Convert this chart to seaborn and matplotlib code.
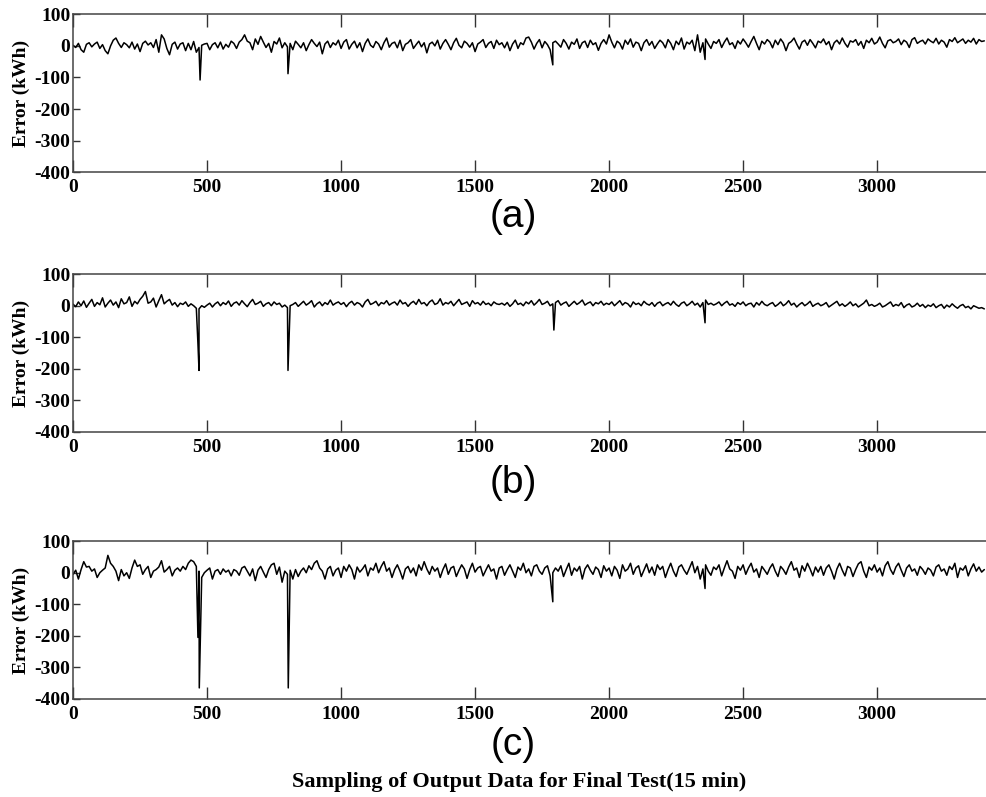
import numpy as np
import pandas as pd
import seaborn as sns
import matplotlib.pyplot as plt

sns.set_theme(style="ticks")
plt.rcParams["font.family"] = ["Liberation Serif", "DejaVu Serif"]
plt.rcParams["xtick.direction"] = "in"
plt.rcParams["ytick.direction"] = "in"
plt.rcParams["axes.unicode_minus"] = False
plt.rcParams["text.color"] = "black"
plt.rcParams["axes.labelcolor"] = "black"
plt.rcParams["xtick.labelcolor"] = "black"
plt.rcParams["ytick.labelcolor"] = "black"

# samples every 10 points (0..3400) (kWh)
step = 10
err_a = [
    2, -5, 8, -12, -20, 5, 10, -3, 6, 12, -8, 4, -15, -25, 0, 18, 25, 8, -5, 10,
    4, -6, 12, -10, 6, -18, 8, 15, 3, 10, -5, 20, -20, 35, 22, -8, -28, 5, 12, -10,
    6, 10, -15, 8, -12, 14, -20, -5, 2, 6, 8, -12, 4, 10, -6, 12, -10, 5, -4, 15,
    8, -8, 12, 20, 35, 15, 10, -12, 22, 5, 30, 12, -5, 8, -20, 14, 6, 25, -6, 10,
    -3, 8, -12, 15, 5, -6, 10, -15, 4, 20, 8, -2, 12, -25, 6, 15, -5, 10, 3, 18,
    -8, 12, 20, -10, 5, 15, -6, 10, -18, 8, 22, 2, -5, 14, 6, -12, 10, 25, -4, 8,
    12, -6, 18, -15, 5, 10, 20, -8, 4, 15, -3, 10, -22, 6, 12, 0, 18, -10, 8, 20,
    5, -12, 10, 24, 2, -6, 15, 8, -4, 10, -18, 6, 12, 20, -5, 8, 14, -8, 18, 4,
    10, -6, 12, -15, 6, 18, -8, 10, 4, 25, 28, 12, -10, 8, 20, -6, 14, 4, -12, 10,
    15, 6, -4, 20, 8, -10, 12, 5, 22, -8, 10, 15, -5, 18, 4, 10, -14, 8, 20, 6,
    35, 12, -6, 15, 8, -10, 18, 5, 22, -4, 12, 8, -15, 10, 20, 2, 14, -8, 6, 18,
    10, -6, 20, 8, -12, 15, 4, 25, -10, 12, 6, 18, -15, 35, -20, 10, 22, 6, -8, 14,
    8, 20, -5, 12, 25, 4, 10, -8, 16, 6, 22, 10, -4, 14, 30, 8, -12, 15, 6, 20,
    12, -6, 18, 4, 22, 10, -15, 8, 14, 25, 6, -10, 12, 18, 2, 20, 8, -6, 15, 10,
    22, 4, 14, -12, 10, 18, 6, 25, 8, -4, 16, 12, 20, 2, 14, -8, 18, 10, 24, 6,
    12, 28, 8, -6, 16, 20, 10, 14, 22, 4, 18, 12, -5, 20, 26, 8, 14, 18, 6, 22,
    15, 10, 24, 6, 18, 12, -4, 20, 14, 26, 10, 16, 22, 8, 18, 12, 24, 6, 20, 14,
    16,
]
err_b = [
    5, -3, 12, 0, 15, -5, 8, 20, -2, 10, 3, 25, -4, 8, 18, 2, 12, -6, 22, 6,
    10, 28, -2, 14, 6, 20, 30, 45, 8, 12, 24, -4, 16, 35, 6, 14, 20, 2, 10, -3,
    8, 4, 12, -2, 6, 0, -8, -10, 0, -5, 2, 8, -4, 6, 12, 0, 10, 4, 15, -2,
    8, 12, 2, 16, 6, -3, 10, 20, 4, 8, 14, -2, 6, 10, 0, 12, 4, 8, -4, 2,
    -6, 0, 4, 10, -2, 6, 14, 2, 8, 16, -4, 6, 12, 0, 10, 4, 18, 2, 8, 12,
    4, 10, -3, 8, 14, 2, 10, 6, -4, 12, 20, 4, 8, 14, 0, 10, 6, 16, 2, 8,
    12, 2, 18, 6, 10, -2, 8, 14, 4, 20, 6, 10, 0, 12, 18, 4, 8, 22, 2, 10,
    6, 14, 0, 10, 20, 4, 8, 12, -2, 16, 6, 10, 2, 14, 4, 8, 0, 12, 6, 4,
    8, 2, 10, -2, 6, 18, 4, 8, 0, 12, 6, 16, 2, 10, 20, 4, 8, 14, 0, 6,
    10, 16, 2, 8, 12, -2, 6, 14, 4, 10, 18, 2, 8, 12, 0, 10, 6, 14, 2, 8,
    4, 12, 0, 8, 16, 2, 10, 6, -4, 12, 4, 8, 0, 14, 6, 2, 10, -2, 8, 12,
    0, 6, 10, 2, 14, 4, -2, 8, 12, 0, 6, 14, 2, 8, -4, 10, 18, 4, 8, 2,
    6, 12, 0, 8, 14, 2, 6, -2, 10, 4, 12, 0, 6, 8, -4, 10, 2, 14, 4, 0,
    6, 10, -2, 4, 12, 0, 6, 16, 2, 8, -4, 4, 10, 0, 6, 14, -2, 4, 8, 0,
    4, 10, -4, 2, 8, 14, 0, 6, -2, 4, 12, 0, 6, -4, 2, 8, 18, 0, 4, -2,
    2, 8, -4, 0, 6, 12, -2, 4, 0, 10, -6, 2, 6, -4, 0, 8, -2, 4, -6, 2,
    -2, 6, -6, 0, 4, -8, 2, -4, 6, -2, -8, 0, 4, -6, -2, -10, 0, -4, -8, -6,
    -10,
]
err_c = [
    -5, 8, -20, 10, 35, 18, 20, 5, 12, -15, 0, 8, 15, 55, 30, 20, 5, -25, 10, -10,
    0, -18, 15, 40, 20, 25, -5, 10, 20, -15, 5, 10, 18, 38, 2, 10, 20, -10, 8, 15,
    5, 20, 10, 30, 40, 35, 20, 5, -15, 0, 8, 15, -20, 5, 10, -5, 12, 2, 8, -10,
    10, 5, -8, 15, 20, 5, -10, 12, -25, 8, 20, 2, -15, 10, 25, 30, -5, 18, -30, 5,
    -5, 8, -20, 10, -12, 5, 15, 0, 22, 10, 30, 38, 15, 5, -20, 12, 20, -10, 8, 15,
    -15, 20, 5, 25, 10, -20, 18, 2, 12, 25, -10, 15, 8, 30, 0, 20, 35, 5, 15, -15,
    10, 25, 5, -20, 12, 20, 0, 15, -10, 25, 8, 35, 12, -5, 20, 5, 15, -15, 10, 28,
    -5, 15, 20, -12, 8, 25, 12, -18, 10, 30, 2, 15, 20, -10, 8, 25, 5, 12, -20, 15,
    20, -8, 10, 25, 5, -15, 18, 8, 30, 0, 12, -10, 20, 25, 5, -5, 15, 22, -10, 0,
    15, 5, 22, -12, 10, 30, -8, 15, 5, 20, -20, 12, 25, 8, -5, 18, 10, -15, 22, 5,
    15, -10, 20, 8, -18, 25, 5, 12, 30, -5, 15, 22, -12, 8, 28, 0, 18, -8, 25, 10,
    20, -15, 10, 30, 5, -12, 18, 25, 8, -5, 15, 35, 0, 20, -20, 12, 25, 5, -8, 18,
    10, 25, -10, 15, 38, 12, 5, -18, 20, 8, 25, -5, 15, 30, 2, 12, -15, 20, 8, -5,
    15, 28, 5, -12, 20, 10, -5, 18, 35, 8, 15, -15, 22, 5, 30, 12, -10, 18, 2, 20,
    -8, 15, 25, 5, -20, 12, 30, 8, -10, 20, 15, -12, 10, 28, 35, 5, -15, 18, 8, 25,
    2, 15, -10, 22, 35, 10, -5, 18, 30, 8, -12, 15, 25, 5, 12, -8, 20, 10, -5, 15,
    8, -10, 18, 25, 5, 12, -8, 20, 10, 30, -15, 15, 8, 22, -10, 12, 28, 5, 18, 2,
    10,
]

# isolated drops (sample index, error)
spike_x_a = [474, 802, 1790, 2358]
spike_y_a = [-108, -88, -60, -43]
spike_x_b = [466, 470, 802, 1794, 2358]
spike_y_b = [-120, -205, -205, -77, -54]
spike_x_c = [466, 471, 803, 1790, 2358]
spike_y_c = [-205, -365, -365, -92, -50]

panels = [
    ("(a)", err_a, spike_x_a, spike_y_a),
    ("(b)", err_b, spike_x_b, spike_y_b),
    ("(c)", err_c, spike_x_c, spike_y_c),
]

fig = plt.figure(figsize=(9.87, 7.97), dpi=100)
bottoms = [0.784, 0.458, 0.123]
label_y = [0.728, 0.394, 0.065]

for (tag, err, sx, sy), b, ly in zip(panels, bottoms, label_y):
    ax = fig.add_axes([0.074, b, 0.926, 0.198])
    df = pd.DataFrame({
        "sample": list(np.arange(len(err)) * step) + sx,
        "error": err + sy,
    }).sort_values("sample")
    sns.lineplot(data=df, x="sample", y="error", ax=ax, color="black",
                 lw=1.1, estimator=None, sort=True)
    ax.set_xlim(0, 3410)
    ax.set_ylim(-400, 100)
    ax.set_xticks(range(0, 3001, 500))
    ax.set_yticks(range(-400, 101, 100))
    ax.tick_params(axis="x", top=True, length=9, width=1, color="#333333",
                   labelsize=14, pad=5)
    ax.tick_params(axis="y", length=5, width=1, color="#333333",
                   labelsize=14, pad=2)
    for lab in ax.get_xticklabels() + ax.get_yticklabels():
        lab.set_fontweight("bold")
    for side in ["left", "top", "bottom"]:
        ax.spines[side].set_color("#444444")
        ax.spines[side].set_linewidth(1.1)
    ax.spines["right"].set_visible(False)
    ax.set_xlabel("")
    ax.set_ylabel("Error (kWh)", fontsize=14, fontweight="bold", labelpad=3)
    fig.text(0.52, ly, tag, ha="center", va="center", fontsize=28,
             family=["Liberation Sans", "DejaVu Sans"])

fig.text(0.526, 0.019, "Sampling of Output Data for Final Test(15 min)",
         ha="center", va="center", fontsize=16, fontweight="bold")

fig.savefig("out.png", dpi=100)
